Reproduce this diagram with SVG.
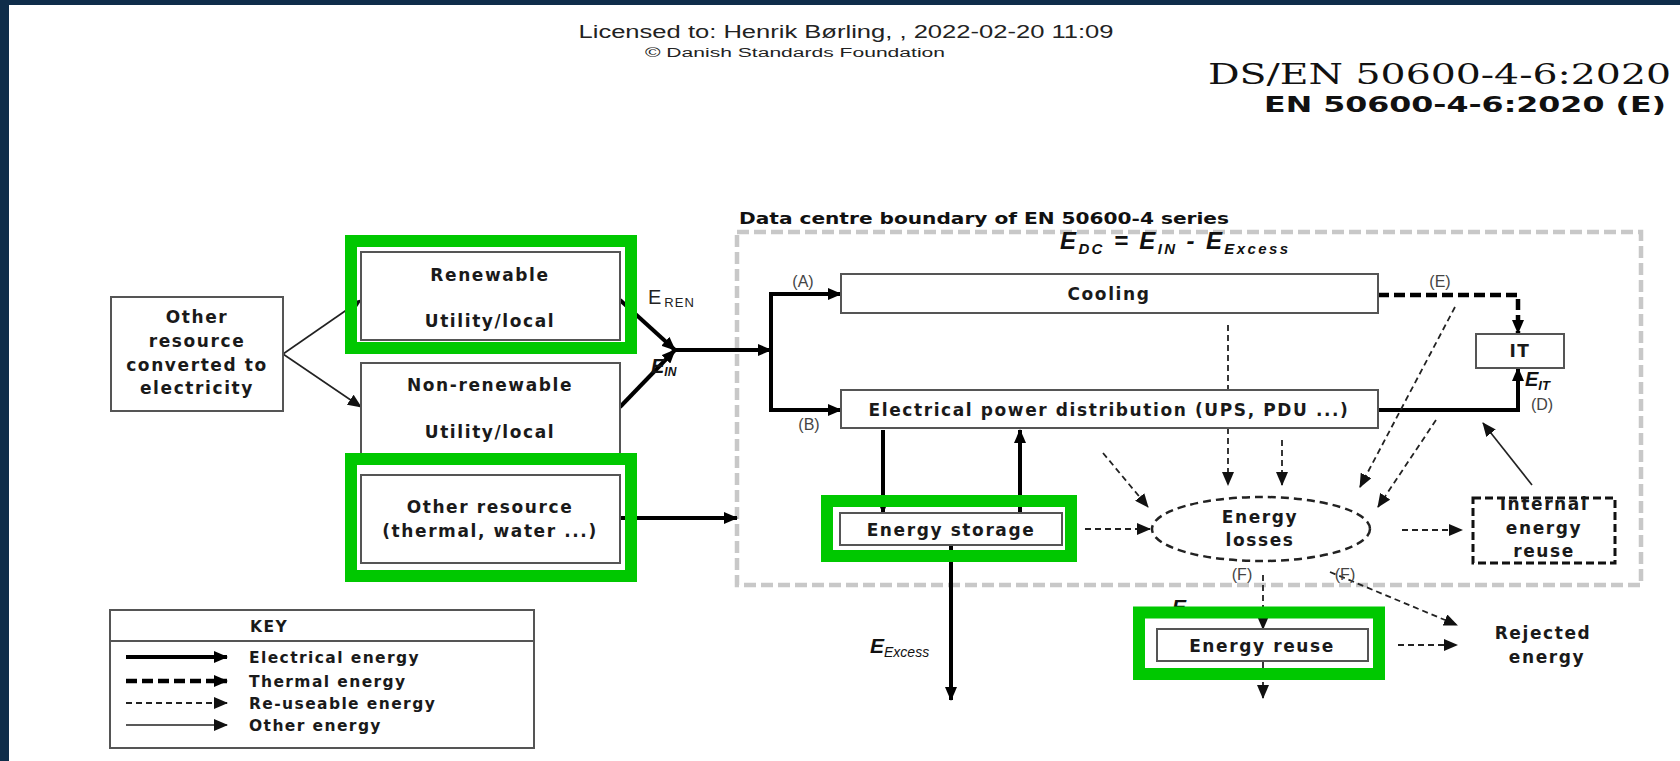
<svg xmlns="http://www.w3.org/2000/svg" width="1680" height="761" viewBox="0 0 1680 761">
<defs>
<style>
.t{font-family:"DejaVu Sans","Liberation Sans",sans-serif;font-weight:bold;font-size:17px;letter-spacing:1.6px;fill:#1a1a1a;text-anchor:middle}
.k{font-family:"DejaVu Sans","Liberation Sans",sans-serif;font-weight:bold;font-size:15.5px;letter-spacing:1.4px;fill:#1a1a1a}
.lab{font-family:"Liberation Sans","DejaVu Sans",sans-serif;font-size:16px;fill:#444;text-anchor:middle}
.ei{font-family:"Liberation Sans","DejaVu Sans",sans-serif;font-weight:bold;font-style:italic;fill:#111}
.box{fill:#fff;stroke:#555;stroke-width:2}
.grn{fill:none;stroke:#00c800;stroke-width:12}
.elec{fill:none;stroke:#000;stroke-width:4}
.therm{fill:none;stroke:#000;stroke-width:4.5;stroke-dasharray:11 5}
.reuse{fill:none;stroke:#222;stroke-width:1.8;stroke-dasharray:6 4}
.other{fill:none;stroke:#222;stroke-width:1.6}
</style>
<marker id="ah" markerUnits="userSpaceOnUse" markerWidth="14" markerHeight="12" refX="13" refY="6" orient="auto"><path d="M0,0 L14,6 L0,12 z" fill="#000"/></marker>
<marker id="as" markerUnits="userSpaceOnUse" markerWidth="14" markerHeight="12" refX="13" refY="6" orient="auto"><path d="M0,0 L14,6 L0,12 z" fill="#111"/></marker>
</defs>
<rect x="0" y="0" width="1680" height="761" fill="#0f2d4a"/>
<rect x="9" y="5" width="1671" height="756" fill="#fff"/>

<g id="header">
<text x="846" y="38" font-family="Liberation Sans, sans-serif" font-size="18" fill="#222" text-anchor="middle" textLength="535" lengthAdjust="spacingAndGlyphs">Licensed to: Henrik Børling, , 2022-02-20 11:09</text>
<text x="795" y="57" font-family="Liberation Sans, sans-serif" font-size="12" fill="#222" text-anchor="middle" textLength="300" lengthAdjust="spacingAndGlyphs">© Danish Standards Foundation</text>
<text x="1671" y="84" font-family="DejaVu Serif, Liberation Serif, serif" font-size="28" fill="#111" text-anchor="end" textLength="463" lengthAdjust="spacingAndGlyphs">DS/EN 50600-4-6:2020</text>
<text x="1666" y="112" font-family="DejaVu Sans, Liberation Sans, sans-serif" font-weight="bold" font-size="22" fill="#111" text-anchor="end" textLength="402" lengthAdjust="spacingAndGlyphs">EN 50600-4-6:2020 (E)</text>
<text x="739" y="224" font-family="DejaVu Sans, Liberation Sans, sans-serif" font-weight="bold" font-size="16" fill="#111" textLength="490" lengthAdjust="spacingAndGlyphs">Data centre boundary of EN 50600-4 series</text>
</g>

<rect id="boundary" x="737" y="232" width="904" height="353" fill="none" stroke="#c8c8c8" stroke-width="4.5" stroke-dasharray="12 5"/>

<g id="formula">
<text class="ei" x="1060" y="249" font-size="24" textLength="228" lengthAdjust="spacing">E<tspan font-size="15" dy="5">DC</tspan><tspan dy="-5"> = E</tspan><tspan font-size="15" dy="5">IN</tspan><tspan dy="-5"> - E</tspan><tspan font-size="15" dy="5">Excess</tspan></text>
</g>

<g id="connectors">
<path class="other" d="M283,354 L361,300" marker-end="url(#as)"/>
<path class="other" d="M283,354 L361,407" marker-end="url(#as)"/>
<path class="elec" d="M620,300 L675,350" marker-end="url(#ah)"/>
<path class="elec" d="M620,407 L675,350" marker-end="url(#ah)"/>
<path class="elec" d="M673,350 L771,350" marker-end="url(#ah)"/>
<path class="elec" d="M620,518 L737,518" stroke-width="2.5" marker-end="url(#ah)"/>
<path class="elec" d="M771,294 L771,410"/>
<path class="elec" d="M769,294 L841,294" marker-end="url(#ah)"/>
<path class="elec" d="M769,410 L841,410" marker-end="url(#ah)"/>
<path class="therm" d="M1378,295 L1518,295 L1518,333" marker-end="url(#ah)"/>
<path class="elec" d="M1378,410 L1518,410 L1518,368" marker-end="url(#ah)"/>
<path class="elec" d="M883,430 L883,513" marker-end="url(#ah)"/>
<path class="elec" d="M1020,513 L1020,430" marker-end="url(#ah)"/>
<path class="elec" d="M951,545 L951,700" marker-end="url(#ah)"/>
<path class="reuse" d="M1228,325 L1228,390" stroke-width="3" stroke-dasharray="8 3 2 3"/>
<path class="reuse" d="M1228,428 L1228,485" stroke-width="3" stroke-dasharray="8 3 2 3" marker-end="url(#as)"/>
<path class="reuse" d="M1282,440 L1282,485" marker-end="url(#as)"/>
<path class="reuse" d="M1103,453 L1148,507" stroke-width="2.2" marker-end="url(#as)"/>
<path class="reuse" d="M1085,529 L1150,529" marker-end="url(#as)"/>
<path class="reuse" d="M1455,307 L1360,487" stroke-width="2.2" marker-end="url(#as)"/>
<path class="reuse" d="M1436,420 L1378,507" stroke-width="2.2" marker-end="url(#as)"/>
<path class="other" d="M1532,485 L1483,423" stroke-width="2" marker-end="url(#as)"/>
<path class="reuse" d="M1402,530 L1462,530" marker-end="url(#as)"/>
<path class="reuse" d="M1263,575 L1263,629" stroke-width="2.5" marker-end="url(#as)"/>
<path class="reuse" d="M1330,572 L1457,625" stroke-width="2.5" marker-end="url(#as)"/>
<path class="reuse" d="M1398,645 L1457,645" stroke-width="2.5" marker-end="url(#as)"/>
<path class="reuse" d="M1263,662 L1263,698" stroke-width="2.5" marker-end="url(#as)"/>
</g>

<g id="other-converted">
<rect class="box" x="111" y="297" width="172" height="114"/>
<text class="t" x="197" y="323" letter-spacing="1.2">Other</text>
<text class="t" x="197" y="347" letter-spacing="1.2">resource</text>
<text class="t" x="197" y="371" letter-spacing="1.2">converted to</text>
<text class="t" x="197" y="394" letter-spacing="1.2">electricity</text>
</g>
<g id="renewable">
<rect class="box" x="361" y="252" width="259" height="88"/>
<text class="t" x="490" y="281">Renewable</text>
<text class="t" x="490" y="327">Utility/local</text>
<rect class="grn" x="351" y="241" width="280" height="107"/>
</g>
<g id="non-renewable">
<rect class="box" x="361" y="363" width="259" height="94"/>
<text class="t" x="490" y="391">Non-renewable</text>
<text class="t" x="490" y="438">Utility/local</text>
</g>
<g id="other-resource">
<rect class="box" x="361" y="475" width="259" height="88"/>
<text class="t" x="490" y="513">Other resource</text>
<text class="t" x="490" y="537">(thermal, water ...)</text>
<rect class="grn" x="351" y="459" width="280" height="117"/>
</g>

<g id="labels">
<text x="648" y="304" font-family="Liberation Sans, sans-serif" font-size="20" fill="#222">E<tspan font-size="13" dy="3" letter-spacing="1" dx="3">REN</tspan></text>
<text class="ei" x="651" y="373" font-size="20">E<tspan font-size="12" dy="3">IN</tspan></text>
<text class="lab" x="803" y="287">(A)</text>
<text class="lab" x="809" y="430">(B)</text>
<text class="lab" x="1440" y="287">(E)</text>
<text class="ei" x="1525" y="386" font-size="20">E<tspan font-size="13" dy="4">IT</tspan></text>
<text class="lab" x="1542" y="410">(D)</text>
<text class="lab" x="1242" y="580">(F)</text>
<text class="lab" x="1345" y="580">(F)</text>
<text class="ei" x="870" y="653" font-size="21">E<tspan font-size="14" dy="4" font-weight="normal">Excess</tspan></text>
<text class="ei" x="1172" y="614" font-size="21">E<tspan font-size="14" dy="4" font-weight="normal">Reuse</tspan></text>
</g>

<g id="cooling">
<rect class="box" x="841" y="274" width="537" height="39"/>
<text class="t" x="1109" y="300">Cooling</text>
</g>
<g id="epd">
<rect class="box" x="841" y="390" width="537" height="38"/>
<text class="t" x="1109" y="416" letter-spacing="2">Electrical power distribution (UPS, PDU ...)</text>
</g>
<g id="it">
<rect class="box" x="1476" y="334" width="88" height="34"/>
<text class="t" x="1520" y="357">IT</text>
</g>
<g id="storage">
<rect class="box" x="840" y="513" width="222" height="32"/>
<text class="t" x="951" y="536">Energy storage</text>
<rect class="grn" x="827" y="501" width="244" height="55"/>
</g>
<g id="losses">
<ellipse cx="1261" cy="529" rx="109" ry="32" fill="none" stroke="#222" stroke-width="2.5" stroke-dasharray="8 5"/>
<text class="t" x="1260" y="523">Energy</text>
<text class="t" x="1260" y="546">losses</text>
</g>
<g id="internal">
<rect x="1473" y="498" width="142" height="65" fill="none" stroke="#111" stroke-width="3" stroke-dasharray="8 4"/>
<text class="t" x="1544" y="510">Internal</text>
<text class="t" x="1544" y="534">energy</text>
<text class="t" x="1544" y="557">reuse</text>
</g>
<g id="reuse">
<rect class="box" x="1157" y="629" width="211" height="32"/>
<text class="t" x="1262" y="652">Energy reuse</text>
<rect class="grn" x="1139" y="612.5" width="240" height="61.5"/>
</g>
<g id="rejected">
<text class="t" x="1543" y="639">Rejected</text>
<text class="t" x="1547" y="663">energy</text>
</g>

<g id="key">
<rect x="110" y="610" width="424" height="138" fill="#fff" stroke="#555" stroke-width="2"/>
<line x1="110" y1="641" x2="534" y2="641" stroke="#555" stroke-width="2"/>
<text class="k" x="269" y="632" text-anchor="middle">KEY</text>
<path class="elec" d="M126,657 L227,657" marker-end="url(#ah)"/>
<path class="therm" d="M126,681 L227,681" stroke-width="4" marker-end="url(#ah)"/>
<path class="reuse" d="M126,703 L227,703" stroke-width="1.6" stroke-dasharray="5 3" marker-end="url(#as)"/>
<path class="other" d="M126,725 L227,725" marker-end="url(#as)"/>
<text class="k" x="249" y="663">Electrical energy</text>
<text class="k" x="249" y="687">Thermal energy</text>
<text class="k" x="249" y="709">Re-useable energy</text>
<text class="k" x="249" y="731">Other energy</text>
</g>
</svg>
